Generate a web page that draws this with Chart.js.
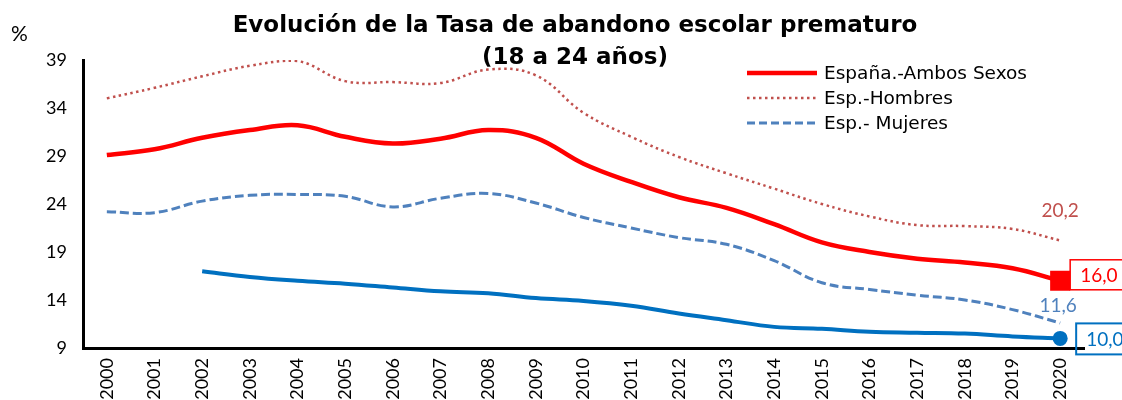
<!DOCTYPE html>
<html lang="es">
<head>
<meta charset="utf-8">
<title>Tasa de abandono escolar prematuro</title>
<script src="https://cdn.jsdelivr.net/npm/chart.js@4/dist/chart.umd.min.js"></script>
<style>
    html, body { margin: 0; padding: 0; background: #fff; }
    #wrap { width: 1122px; height: 400px; position: relative; }
</style>
</head>
<body>
<div id="wrap"><canvas id="abandonoChart"></canvas></div>
<script>
const years = ['2000', '2001', '2002', '2003', '2004', '2005', '2006', '2007', '2008', '2009', '2010',
    '2011', '2012', '2013', '2014', '2015', '2016', '2017', '2018', '2019', '2020'];
const ambosSexos = [29.1, 29.7, 30.9, 31.7, 32.2, 31.0, 30.3, 30.8, 31.7, 30.9, 28.2,
    26.3, 24.7, 23.6, 21.9, 20.0, 19.0, 18.3, 17.9, 17.3, 16.0];
const hombres = [35.0, 36.1, 37.3, 38.4, 38.9, 36.8, 36.7, 36.6, 38.0, 37.4, 33.5,
    31.0, 28.9, 27.2, 25.6, 24.0, 22.7, 21.8, 21.7, 21.4, 20.2];
const mujeres = [23.2, 23.1, 24.3, 24.9, 25.0, 24.8, 23.7, 24.6, 25.1, 24.1, 22.6,
    21.5, 20.5, 19.8, 18.1, 15.8, 15.1, 14.5, 14.0, 13.0, 11.6];
const ue = [null, null, 17.0, 16.4, 16.0, 15.7, 15.3, 14.9, 14.7, 14.2, 13.9,
    13.4, 12.6, 11.9, 11.2, 11.0, 10.7, 10.6, 10.5, 10.2, 10.0];
const yTicks = [9, 14, 19, 24, 29, 34, 39];
const titleLines = ['Evolución de la Tasa de abandono escolar prematuro', '(18 a 24 años)'];
const yUnit = '%';

const FONT = "'Lato', 'DejaVu Sans', sans-serif";
const WIDE = "'DejaVu Sans', sans-serif";
const last = years.length - 1;
const fmt = v => v.toFixed(1).replace('.', ',');

// only the 2020 point carries a marker
const endOnly = r => ctx => ctx.dataIndex === last ? r : 0;

const overlay = {
    id: 'overlay',
    afterDraw(chart) {
        const ctx = chart.ctx;
        ctx.save();

        // title
        ctx.fillStyle = '#000';
        ctx.textAlign = 'center';
        ctx.textBaseline = 'middle';
        ctx.font = 'bold 23px ' + WIDE;
        ctx.fillText(titleLines[0], 575, 26);
        ctx.fillText(titleLines[1], 575, 58);

        // % unit
        ctx.font = '21px ' + FONT;
        ctx.textAlign = 'left';
        ctx.fillText(yUnit, 11, 34);

        // legend (first three series)
        ctx.font = '18.5px ' + WIDE;
        chart.data.datasets.slice(0, 3).forEach((ds, i) => {
            const y = 73 + i * 25;
            ctx.beginPath();
            ctx.strokeStyle = ds.borderColor;
            ctx.lineWidth = ds.borderWidth;
            ctx.setLineDash(ds.legendDash || []);
            ctx.moveTo(747, y);
            ctx.lineTo(817, y);
            ctx.stroke();
            ctx.setLineDash([]);
            ctx.fillStyle = '#000';
            ctx.textAlign = 'left';
            ctx.fillText(ds.label, 824, y + 1);
        });

        // end labels
        const pt = i => chart.getDatasetMeta(i).data[last];
        ctx.font = '19px ' + FONT;
        ctx.textAlign = 'center';

        let p = pt(1);
        ctx.fillStyle = '#C0504D';
        ctx.fillText(fmt(hombres[last]), p.x, p.y - 30);

        p = pt(2);
        ctx.fillStyle = '#4F81BD';
        ctx.fillText(fmt(mujeres[last]), p.x - 2, p.y - 17);

        p = pt(0);
        ctx.lineWidth = 1.5;
        ctx.strokeStyle = '#FF0000';
        ctx.strokeRect(p.x + 10, p.y - 21, 60, 30);
        ctx.fillStyle = '#FF0000';
        ctx.textAlign = 'left';
        ctx.fillText(fmt(ambosSexos[last]), p.x + 20, p.y - 5);

        p = pt(3);
        ctx.lineWidth = 2;
        ctx.strokeStyle = '#0070C0';
        ctx.strokeRect(p.x + 16, p.y - 15, 60, 31);
        ctx.fillStyle = '#0070C0';
        ctx.fillText(fmt(ue[last]), p.x + 26, p.y + 1);

        ctx.restore();
    }
};

new Chart(document.getElementById('abandonoChart'), {
    type: 'line',
    data: {
        labels: years,
        datasets: [{
            label: 'España.-Ambos Sexos',
            data: ambosSexos,
            borderColor: '#FF0000',
            backgroundColor: '#FF0000',
            borderWidth: 4.5,
            pointStyle: 'rect',
            pointRadius: endOnly(11),
            pointHoverRadius: 0
        }, {
            label: 'Esp.-Hombres',
            data: hombres,
            borderColor: '#C0504D',
            borderWidth: 2.5,
            borderDash: [2.5, 3.5],
            legendDash: [2.5, 3.5],
            pointRadius: 0
        }, {
            label: 'Esp.- Mujeres',
            data: mujeres,
            borderColor: '#4F81BD',
            borderWidth: 3,
            borderDash: [9, 4],
            legendDash: [8, 4],
            pointRadius: 0
        }, {
            label: 'UE',
            data: ue,
            borderColor: '#0070C0',
            backgroundColor: '#0070C0',
            borderWidth: 4,
            pointStyle: 'circle',
            pointRadius: endOnly(7.5),
            pointBorderWidth: 0,
            pointHoverRadius: 0
        }]
    },
    options: {
        responsive: true,
        maintainAspectRatio: false,
        animation: false,
        events: [],
        spanGaps: false,
        elements: {
            line: { tension: 0.4, cubicInterpolationMode: 'default' }
        },
        layout: {
            padding: { top: 60, right: 38, left: 0, bottom: 0 }
        },
        plugins: {
            legend: { display: false },
            title: { display: false },
            tooltip: { enabled: false }
        },
        scales: {
            x: {
                offset: true,
                grid: { display: false, drawTicks: false },
                border: { display: true, color: '#000', width: 3 },
                ticks: {
                    color: '#000',
                    font: { family: FONT, size: 18 },
                    minRotation: 90,
                    maxRotation: 90,
                    padding: 10,
                    autoSkip: false
                },
                afterFit(scale) { scale.height = 52; }
            },
            y: {
                min: yTicks[0],
                max: yTicks[yTicks.length - 1],
                grid: { display: false, drawTicks: false },
                border: { display: true, color: '#000', width: 3 },
                afterBuildTicks(scale) {
                    scale.ticks = yTicks.map(v => ({ value: v }));
                },
                ticks: {
                    color: '#000',
                    font: { family: FONT, size: 18 },
                    padding: 16
                },
                afterFit(scale) { scale.width = 83; }
            }
        }
    },
    plugins: [overlay]
});
</script>
</body>
</html>
